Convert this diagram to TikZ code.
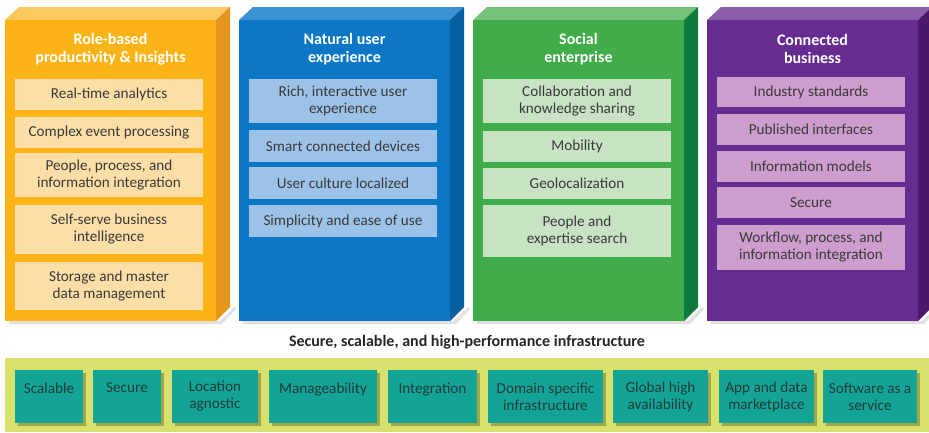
\documentclass[tikz,border=0pt]{standalone}
\usepackage{fontspec}
\setmainfont{Carlito}
\definecolor{orFront}{HTML}{FBB316}
\definecolor{orTop}{HTML}{FCC860}
\definecolor{orSide}{HTML}{E5951E}
\definecolor{orItem}{HTML}{FDDEA6}
\definecolor{blFront}{HTML}{0B77C5}
\definecolor{blTop}{HTML}{3A92D4}
\definecolor{blSide}{HTML}{07609F}
\definecolor{blItem}{HTML}{9CC2E8}
\definecolor{grFront}{HTML}{40AC4A}
\definecolor{grTop}{HTML}{76C27A}
\definecolor{grSide}{HTML}{0E7A3C}
\definecolor{grItem}{HTML}{C7E3C3}
\definecolor{puFront}{HTML}{672C91}
\definecolor{puTop}{HTML}{8B5DAA}
\definecolor{puSide}{HTML}{4B1769}
\definecolor{puItem}{HTML}{CD9DCD}
\definecolor{bandFill}{HTML}{D7E16B}
\definecolor{bandShadow}{HTML}{9DA84A}
\definecolor{tealBox}{HTML}{14A496}
\definecolor{itemText}{HTML}{3A3A3A}
\definecolor{infraText}{HTML}{1E3B3A}
% a 3-D pillar: #1 left edge, #2 front, #3 top, #4 side colour
\newcommand\pillarblock[4]{%
  \fill[black, opacity=.12] (#1+4,321) -- (#1+215,321) -- (#1+229,307) -- (#1+231,309) -- (#1+217,324) -- (#1+4,324) -- cycle;
  \fill[#3] (#1,20) -- (#1+14,7) -- (#1+225,7) -- (#1+211,20) -- cycle;
  \fill[#4] (#1+211,20) -- (#1+225,7) -- (#1+225,307) -- (#1+211,321) -- cycle;
  \fill[#2] (#1,20) rectangle (#1+211,321);
}
\begin{document}
\begin{tikzpicture}[x=1pt,y=-1pt,
  itembox/.style={fill=#1, minimum width=188, inner sep=1pt, align=center,
    text=itemText, font=\fontsize{15.2}{17}\selectfont},
  pillartitle/.style={text=white, align=center, font=\bfseries\fontsize{16}{18}\selectfont},
  infrabox/.style={fill=tealBox, minimum height=53, inner sep=1pt, align=center,
    text=infraText, font=\fontsize{15.2}{17}\selectfont},
  infrashadow/.style={fill=bandShadow}]
\useasboundingbox (0,0) rectangle (929,432);
\fill[white] (0,0) rectangle (929,432);

% pillars
\pillarblock{5}{orFront}{orTop}{orSide}
\pillarblock{239}{blFront}{blTop}{blSide}
\pillarblock{473}{grFront}{grTop}{grSide}
\pillarblock{707}{puFront}{puTop}{puSide}

% pillar titles
\node[pillartitle] (t1) at (110.5,49) {Role-based\\productivity \& Insights};
\node[pillartitle] (t2) at (344.5,49) {Natural user\\experience};
\node[pillartitle] (t3) at (578.5,49) {Social\\enterprise};
\node[pillartitle] (t4) at (812.5,49) {Connected\\business};

% role-based productivity
\node[itembox=orItem, minimum height=31] (a1) at (109,94.5) {Real-time analytics};
\node[itembox=orItem, minimum height=31] (a2) at (109,132.5) {Complex event processing};
\node[itembox=orItem, minimum height=44] (a3) at (109,175) {People, process, and\\information integration};
\node[itembox=orItem, minimum height=49] (a4) at (109,229.5) {Self-serve business\\intelligence};
\node[itembox=orItem, minimum height=48] (a5) at (109,286) {Storage and master\\data management};

% natural user experience
\node[itembox=blItem, minimum height=44] (b1) at (343,101) {Rich, interactive user\\experience};
\node[itembox=blItem, minimum height=32] (b2) at (343,146) {Smart connected devices};
\node[itembox=blItem, minimum height=32] (b3) at (343,183) {User culture localized};
\node[itembox=blItem, minimum height=32] (b4) at (343,221) {Simplicity and ease of use};

% social enterprise
\node[itembox=grItem, minimum height=44] (c1) at (577,101) {Collaboration and\\knowledge sharing};
\node[itembox=grItem, minimum height=31] (c2) at (577,146.5) {Mobility};
\node[itembox=grItem, minimum height=31] (c3) at (577,183.5) {Geolocalization};
\node[itembox=grItem, minimum height=52] (c4) at (577,231) {People and\\expertise search};

% connected business
\node[itembox=puItem, minimum height=30] (d1) at (811,92) {Industry standards};
\node[itembox=puItem, minimum height=31] (d2) at (811,129.5) {Published interfaces};
\node[itembox=puItem, minimum height=31] (d3) at (811,166.5) {Information models};
\node[itembox=puItem, minimum height=31] (d4) at (811,202.5) {Secure};
\node[itembox=puItem, minimum height=45] (d5) at (811,247.5) {Workflow, process, and\\information integration};

% infrastructure
\node[font=\bfseries\fontsize{16}{18}\selectfont, text=black!85] (head) at (467,342)
  {Secure, scalable, and high-performance infrastructure};
\fill[bandFill] (5,358) rectangle (929,432);

\foreach \xa/\xb in {15/83, 93/161, 172/258, 269/377, 388/477, 488/603, 613/708, 719/814, 823/917}
  \fill[infrashadow] (\xa+3,373) rectangle (\xb+3,426);

\node[infrabox, minimum width=68] (i1) at (49,396.5) {Scalable\\~};
\node[infrabox, minimum width=68] (i2) at (127,396.5) {Secure\\~};
\node[infrabox, minimum width=86] (i3) at (215,396.5) {Location\\agnostic};
\node[infrabox, minimum width=108] (i4) at (323,396.5) {Manageability\\~};
\node[infrabox, minimum width=89] (i5) at (432.5,396.5) {Integration\\~};
\node[infrabox, minimum width=115] (i6) at (545.5,396.5) {Domain specific\\infrastructure};
\node[infrabox, minimum width=95] (i7) at (660.5,396.5) {Global high\\availability};
\node[infrabox, minimum width=95] (i8) at (766.5,396.5) {App and data\\marketplace};
\node[infrabox, minimum width=94] (i9) at (870,396.5) {Software as a\\service};
\end{tikzpicture}
\end{document}
